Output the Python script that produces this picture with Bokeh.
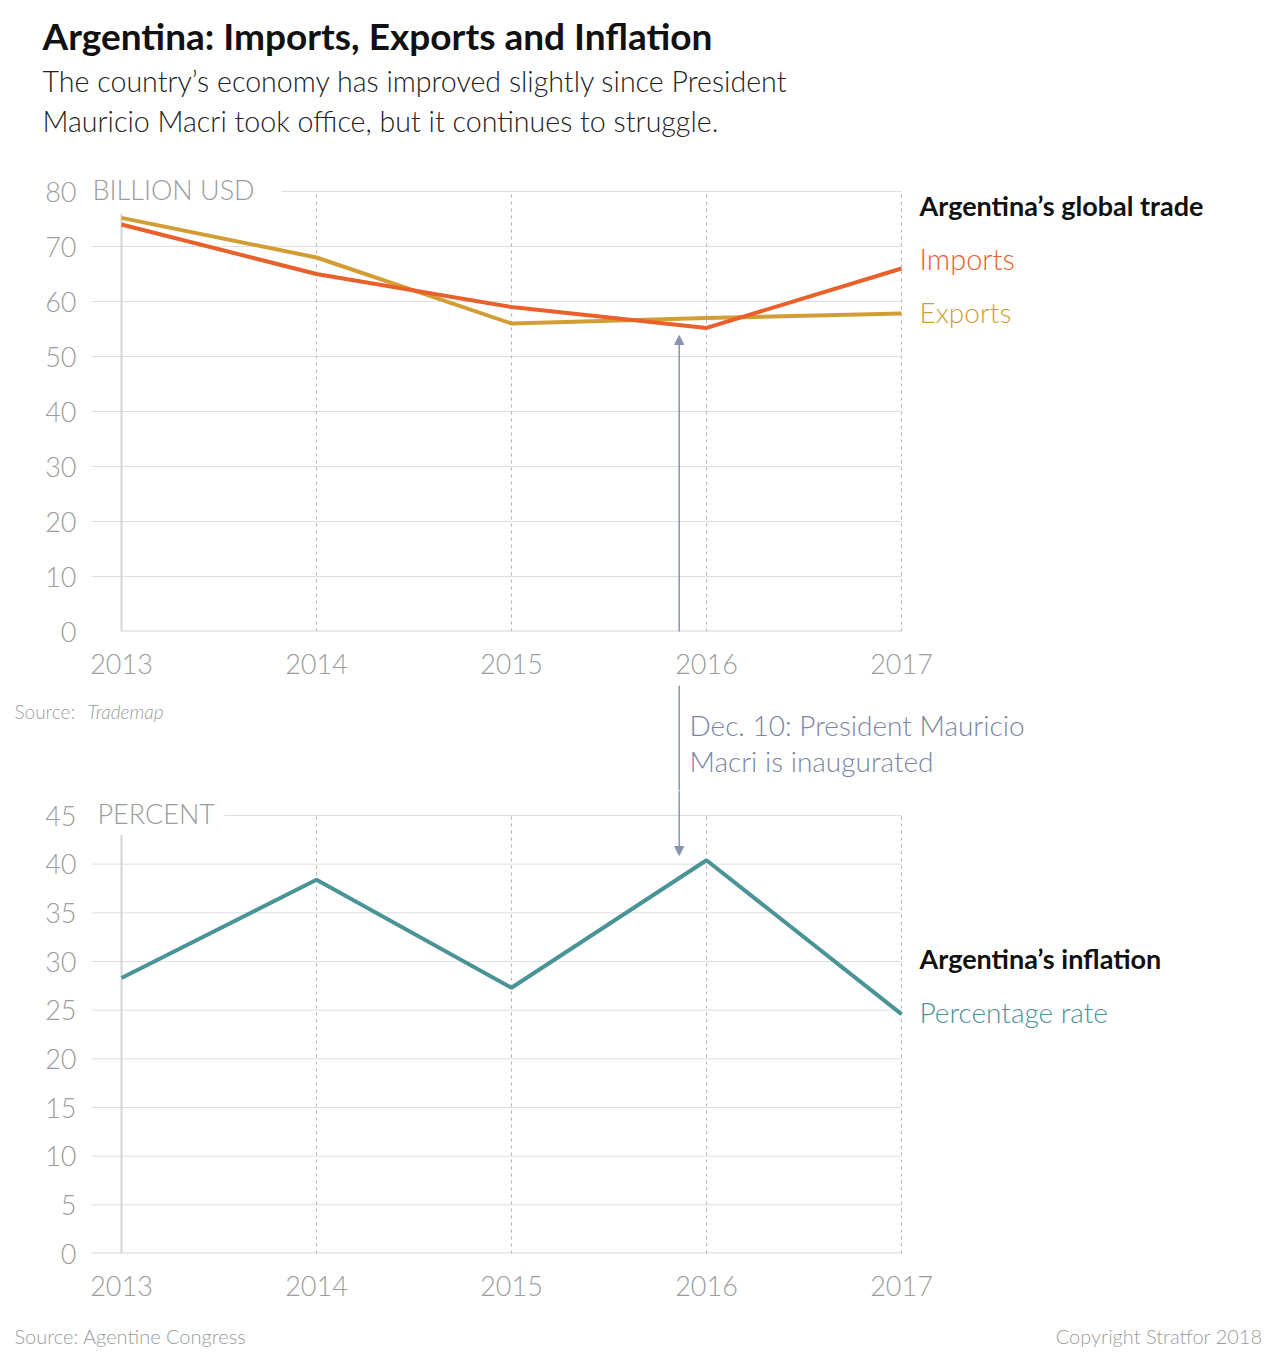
from bokeh.plotting import figure
from bokeh.layouts import column, row
from bokeh.models import Range1d, FixedTicker, Label, Arrow, NormalHead
from bokeh.embed import file_html
from bokeh.resources import INLINE

# ---------------- data ----------------
years = [2013, 2014, 2015, 2016, 2017]
year_labels = ["2013", "2014", "2015", "2016", "2017"]
imports = [74.0, 65.0, 59.0, 55.2, 66.0]
exports = [75.2, 68.0, 56.0, 57.0, 57.8]
inflation = [28.3, 38.4, 27.3, 40.4, 24.6]
trade_ticks = [0, 10, 20, 30, 40, 50, 60, 70, 80]
infl_ticks = [0, 5, 10, 15, 20, 25, 30, 35, 40, 45]
inauguration_x = 2015.86

# ---------------- style ----------------
FONT = "Lato Light, Lato"
BOLD = "Lato"
GREY = "#9c9c9c"
GRID = "#dedede"
AXLINE = "#d4d4d4"
DOT = "#b3b3b3"
C_IMP = "#e9602a"
C_EXP = "#d39d35"
C_INF = "#4a9396"
C_ANN = "#7b85a3"
C_ARR = "#8a93b0"

W = 1280
PX_YEAR = 195.0
X0_PX = 121
TOP_PXU = 5.5
BOT_PXU = 438 / 45.0
DY = -2  # small vertical nudge for text labels
SPLIT = 790  # page y where the bottom chart's canvas starts


def X(px):
    return 2013 + (px - X0_PX) / PX_YEAR


def YT(py):
    return (631 - py) / TOP_PXU


def YB(py):
    return (1253 - py) / BOT_PXU


def lab(p, x, y, text, size, color, font=FONT, style="normal", align="left"):
    p.add_layout(Label(x=x, y=y, text=text, text_font=font, text_font_size=size,
                       text_color=color, text_font_style=style, text_align=align,
                       text_baseline="middle"))


def text_fig(height, y_top, x_range):
    p = figure(width=W, height=height, output_backend="svg", toolbar_location=None,
               x_range=x_range, y_range=Range1d(y_top + height, y_top),
               x_axis_type=None, y_axis_type=None, title=None,
               min_border_left=0, min_border_right=0, min_border_top=0, min_border_bottom=0)
    p.outline_line_color = None
    p.grid.visible = False
    return p


def chart_fig(height, y_end, border_bottom, ticks):
    p = figure(width=W, height=height, output_backend="svg", toolbar_location=None,
               x_range=Range1d(X(91), X(W)), y_range=Range1d(0, y_end), title=None,
               min_border_left=91, min_border_right=0,
               min_border_top=0, min_border_bottom=border_bottom)
    p.outline_line_color = None
    p.grid.visible = False
    p.xaxis.ticker = FixedTicker(ticks=years)
    p.xaxis.major_label_overrides = {y: l for y, l in zip(years, year_labels)}
    p.yaxis.ticker = FixedTicker(ticks=ticks)
    for ax in (p.xaxis, p.yaxis):
        ax.axis_line_color = None
        ax.major_tick_line_color = None
        ax.minor_tick_line_color = None
        ax.major_label_text_font = FONT
        ax.major_label_text_font_size = "27px"
        ax.major_label_text_color = GREY
    p.xaxis.major_label_standoff = 16
    p.yaxis.major_label_standoff = 9
    return p


def gridlines(p, ticks, top_start_px, base_start):
    ymax = ticks[-1]
    mids = ticks[1:-1]
    p.segment(x0=[X(91)] * len(mids), y0=mids, x1=[years[-1]] * len(mids), y1=mids,
              line_color=GRID, line_width=1)
    p.segment(x0=[X(top_start_px)], y0=[ymax], x1=[years[-1]], y1=[ymax],
              line_color=GRID, line_width=1)
    p.segment(x0=[base_start], y0=[0], x1=[years[-1]], y1=[0],
              line_color=AXLINE, line_width=2)
    p.segment(x0=years[1:], y0=[0] * 4, x1=years[1:], y1=[ymax] * 4,
              line_color=DOT, line_width=1, line_dash="3 4")


# ---------------- header ----------------
head = text_fig(150, 0, Range1d(0, W))
lab(head, 42, 37 + DY, "Argentina: Imports, Exports and Inflation", "37px", "#111111",
    font=BOLD, style="bold")
lab(head, 42, 82 + DY, "The country\u2019s economy has improved slightly since President",
    "28.6px", "#222222")
lab(head, 42, 122 + DY, "Mauricio Macri took office, but it continues to struggle.",
    "28.6px", "#222222")

# ---------------- top chart ----------------
top = chart_fig(535, YT(150), 685 - 631, trade_ticks)
gridlines(top, trade_ticks, 281, years[0])
top.segment(x0=[years[0]], y0=[0], x1=[years[0]], y1=[76], line_color=AXLINE, line_width=2)
top.line(years, exports, line_color=C_EXP, line_width=4)
top.line(years, imports, line_color=C_IMP, line_width=4)
lab(top, X(92), YT(191 + DY), "BILLION USD", "27px", GREY)
lab(top, X(919), YT(207 + DY), "Argentina\u2019s global trade", "27px", "#111111",
    font=BOLD, style="bold")
lab(top, X(919), YT(260 + DY), "Imports", "29px", C_IMP)
lab(top, X(919), YT(313 + DY), "Exports", "28px", C_EXP)
top.add_layout(Arrow(x_start=inauguration_x, y_start=YT(648),
                     x_end=inauguration_x, y_end=YT(335),
                     line_color=C_ARR, line_width=1.5,
                     end=NormalHead(size=9, fill_color=C_ARR, line_color=C_ARR)))

# ---------------- gap (source + annotation) ----------------
gap = text_fig(SPLIT - 685, 685, Range1d(X(0), X(W)))
lab(gap, X(14), 713 + DY, "Source:", "19px", GREY)
lab(gap, X(87), 713 + DY, "Trademap", "19px", GREY, style="italic")
lab(gap, X(689), 726 + DY, "Dec. 10: President Mauricio", "28px", C_ANN)
lab(gap, X(689), 762 + DY, "Macri is inaugurated", "28px", C_ANN)
gap.add_layout(Arrow(x_start=inauguration_x, y_start=685, x_end=inauguration_x, y_end=SPLIT,
                     line_color=C_ARR, line_width=1.5, end=None))

# ---------------- bottom chart ----------------
bot = chart_fig(1305 - SPLIT, YB(SPLIT), 1305 - 1253, infl_ticks)
gridlines(bot, infl_ticks, 224, X(91))
bot.segment(x0=[years[0]], y0=[0], x1=[years[0]], y1=[43], line_color=AXLINE, line_width=2)
bot.line(years, inflation, line_color=C_INF, line_width=4)
lab(bot, X(97), YB(815 + DY), "PERCENT", "27px", GREY)
lab(bot, X(919), YB(960 + DY), "Argentina\u2019s inflation", "27px", "#111111",
    font=BOLD, style="bold")
lab(bot, X(919), YB(1013 + DY), "Percentage rate", "28px", C_INF)
bot.add_layout(Arrow(x_start=inauguration_x, y_start=YB(SPLIT),
                     x_end=inauguration_x, y_end=YB(855),
                     line_color=C_ARR, line_width=1.5,
                     end=NormalHead(size=9, fill_color=C_ARR, line_color=C_ARR)))

# ---------------- footer ----------------
foot = text_fig(65, 1305, Range1d(0, W))
lab(foot, 14, 1337 + DY, "Source: Agentine Congress", "20px", GREY)
lab(foot, 1262, 1337 + DY, "Copyright Stratfor 2018", "20px", GREY, align="right")

layout = column(row(head), top, row(gap), bot, row(foot), spacing=0)
open("out.html", "w").write(file_html(layout, INLINE))
